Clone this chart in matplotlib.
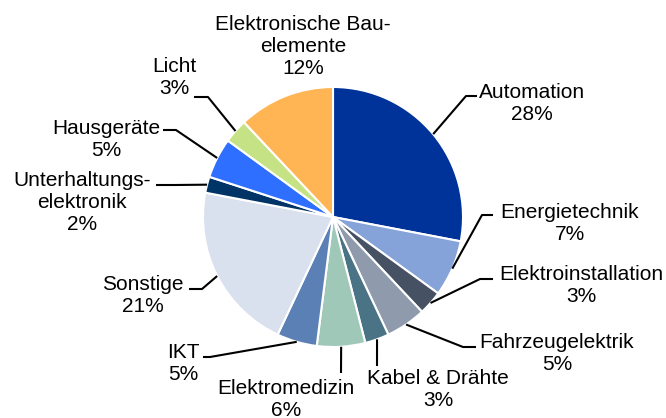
import numpy as np
import matplotlib
matplotlib.use("Agg")
import matplotlib.pyplot as plt

plt.rcParams["font.family"] = ["Liberation Sans", "DejaVu Sans"]

# data (clockwise from 12 o'clock)
labels = [
    "Automation",
    "Energietechnik",
    "Elektroinstallation",
    "Fahrzeugelektrik",
    "Kabel & Drähte",
    "Elektromedizin",
    "IKT",
    "Sonstige",
    "Unterhaltungs-\nelektronik",
    "Hausgeräte",
    "Licht",
    "Elektronische Bau-\nelemente",
]
shares = [28, 7, 3, 5, 3, 6, 5, 21, 2, 5, 3, 12]
colors = [
    "#003399", "#85A2D9", "#465264", "#8F9BAD", "#4A7385", "#A0C8B8",
    "#5B80B5", "#D9E0EE", "#003366", "#2E6FFF", "#C5E384", "#FFB554",
]

W, H = 666, 418
CX, CY, R = 333, 217, 130

# label layout in pixels (y from top): text centre, knee of leader, end x of leader
layout = [
    ((532, 104), (466, 96), 477),
    ((570, 223), (482, 215), 493),
    ((581, 286), (480, 279), 493),
    ((557, 353), (463, 347), 476),
    ((438, 390), (377, 366), 377),
    ((286, 399), (341, 373), 341),
    ((183, 364), (210, 357), 203),
    ((143, 296), (202, 289), 189),
    ((82, 203), (175, 185), 156),
    ((106, 139), (176, 130), 163),
    ((174, 77), (208, 97), 194),
    ((303, 46), None, None),
]


def py(y):
    return H - y


fig = plt.figure(figsize=(W / 100, H / 100), dpi=100)
ax = fig.add_axes([0, 0, 1, 1])

wedges, _ = ax.pie(
    shares,
    colors=colors,
    startangle=90,
    counterclock=False,
    center=(CX, py(CY)),
    radius=R,
    wedgeprops=dict(edgecolor="white", linewidth=1.5),
)
ax.set_xlim(0, W)
ax.set_ylim(0, H)
ax.axis("off")

for w, lab, v, (txt, knee, end) in zip(wedges, labels, shares, layout):
    ax.text(txt[0], py(txt[1]), f"{lab}\n{v}%", ha="center", va="center",
            fontsize=15, linespacing=1.2, color="black")
    if knee is None:
        continue
    mid = np.deg2rad((w.theta1 + w.theta2) / 2)
    x0 = CX + R * np.cos(mid)
    y0 = py(CY) + R * np.sin(mid)
    ax.plot([x0, knee[0], end], [y0, py(knee[1]), py(knee[1])],
            color="black", lw=1.5, solid_capstyle="butt")

fig.savefig("out.png", dpi=100)
